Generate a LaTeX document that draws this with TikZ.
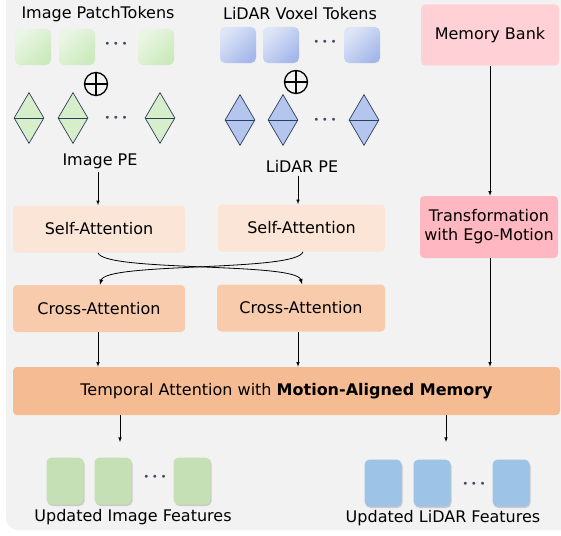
\documentclass[tikz,border=0pt]{standalone}
\usepackage{fontspec}
\setmainfont{DejaVu Sans}
\usepackage{xcolor}
\usetikzlibrary{arrows.meta,shapes.geometric,shadows}
\definecolor{bggray}{HTML}{F2F2F2}
\definecolor{tokgreenA}{HTML}{EAF6E4}
\definecolor{tokgreenB}{HTML}{CBEABD}
\definecolor{tokblueA}{HTML}{DDE5F7}
\definecolor{tokblueB}{HTML}{A6B8EA}
\definecolor{pegreen}{HTML}{D6EEC9}
\definecolor{peblue}{HTML}{B4C6EE}
\definecolor{peline}{HTML}{2E3D5C}
\definecolor{selfcol}{HTML}{FBE5D6}
\definecolor{crosscol}{HTML}{F8CBAD}
\definecolor{tempcol}{HTML}{F5BC94}
\definecolor{memcol}{HTML}{FFD1D7}
\definecolor{transcol}{HTML}{FFB8C1}
\definecolor{featgreen}{HTML}{C5E0B4}
\definecolor{featblue}{HTML}{9DC3E6}
\definecolor{dotcol}{HTML}{3B4A66}
\tikzset{>=latex}
\newcommand{\tokdots}{$\bullet$\hspace{4.6pt}$\bullet$\hspace{4.6pt}$\bullet$}
\tikzset{
	box/.style={rectangle, rounded corners=4pt, align=center, inner sep=0pt},
	attbox/.style={box, minimum height=47pt},
	token/.style={rectangle, rounded corners=5pt, minimum size=36pt, inner sep=0pt},
	gtoken/.style={token, top color=tokgreenA, bottom color=tokgreenB, shading angle=45},
	btoken/.style={token, top color=tokblueA, bottom color=tokblueB, shading angle=45},
	pe/.style={diamond, draw=peline, line width=0.7pt, minimum width=30pt, minimum height=51pt, inner sep=0pt},
	feat/.style={rectangle, rounded corners=5pt, minimum width=37pt, minimum height=47pt, inner sep=0pt,
			drop shadow={shadow xshift=1pt, shadow yshift=-1.5pt, opacity=0.35}},
	dots/.style={text=dotcol, font=\fontsize{7}{7}\selectfont, inner sep=0pt},
	oplus/.style={circle, draw, line width=1.3pt, minimum size=23pt, inner sep=0pt}
}

\begin{document}
\begin{tikzpicture}[x=1pt, y=-1pt, font=\fontsize{16}{19}\selectfont, semithick]
		\clip (0,0) rectangle (561,535);
		\fill[bggray, rounded corners=12pt] (6,-12) rectangle (590,530);

		% input tokens
		\node (imgtitle) at (98,14) {Image PatchTokens};
		\node (lidtitle) at (300,14) {LiDAR Voxel Tokens};
		\node[gtoken] (gt1) at (33,47) {};
		\node[gtoken] (gt2) at (77,47) {};
		\node[dots] (gtdots) at (116,44) {\tokdots};
		\node[gtoken] (gt3) at (156,47) {};
		\node[btoken] (bt1) at (238,45) {};
		\node[btoken] (bt2) at (281,45) {};
		\node[dots] (btdots) at (325,42) {\tokdots};
		\node[btoken] (bt3) at (362,45) {};

		% positional encodings
		\node[oplus] (plusI) at (96,84) {};
		\draw[line width=1.3pt] (plusI.north) -- (plusI.south) (plusI.west) -- (plusI.east);
		\node[oplus] (plusL) at (296,82) {};
		\draw[line width=1.3pt] (plusL.north) -- (plusL.south) (plusL.west) -- (plusL.east);
		\foreach \x [count=\i] in {29,73,160} {
				\node[pe, fill=pegreen] (gpe\i) at (\x,118) {};
				\draw[peline, line width=0.7pt] (gpe\i.west) -- (gpe\i.east);
			}
		\foreach \x [count=\i] in {240,283,364} {
				\node[pe, fill=peblue] (bpe\i) at (\x,120) {};
				\draw[peline, line width=0.7pt] (bpe\i.west) -- (bpe\i.east);
			}
		\node[dots] (gpedots) at (116,118) {\tokdots};
		\node[dots] (bpedots) at (325,120) {\tokdots};
		\node (imgpe) at (100,161) {Image PE};
		\node (lidpe) at (302,166) {LiDAR PE};

		% attention blocks
		\node[attbox, fill=selfcol, minimum width=172pt] (selfI) at (99,229) {Self-Attention};
		\node[attbox, fill=selfcol, minimum width=167pt] (selfL) at (301.5,228) {Self-Attention};
		\node[attbox, fill=crosscol, minimum width=172pt] (crossI) at (99,308.5) {Cross-Attention};
		\node[attbox, fill=crosscol, minimum width=168pt] (crossL) at (301,308) {Cross-Attention};

		% memory branch
		\node[box, fill=memcol, minimum width=138pt, minimum height=61pt] (membank) at (490,35) {Memory Bank};
		\node[box, fill=transcol, minimum width=138pt, minimum height=62pt] (trans) at (489,227) {Transformation\\with Ego-Motion};
		\node[box, fill=tempcol, minimum width=547pt, minimum height=48pt] (temporal) at (286.5,391)
		{Temporal Attention with \textbf{Motion-Aligned Memory}};

		% outputs
		\node[feat, fill=featgreen] (gf1) at (65,481) {};
		\node[feat, fill=featgreen] (gf2) at (113,481) {};
		\node[dots] (gfdots) at (155,477) {\tokdots};
		\node[feat, fill=featgreen] (gf3) at (192,481) {};
		\node[feat, fill=featblue] (bf1) at (383,483) {};
		\node[feat, fill=featblue] (bf2) at (432,483) {};
		\node[dots] (bfdots) at (474,484) {\tokdots};
		\node[feat, fill=featblue] (bf3) at (511,483) {};
		\node (imgout) at (133,517) {Updated Image Features};
		\node (lidout) at (443,518) {Updated LiDAR Features};
		\coordinate (imgend) at (120,442);
		\coordinate (lidend) at (446,442);

		% connectors
		\draw[->] (imgpe.south -| 98,0) -- (selfI.north -| 98,0);
		\draw[->] (lidpe.south -| 298,0) -- (selfL.north -| 298,0);
		\draw[->, thick] (selfI.south -| 98,0) .. controls (104,272) and (296,262) .. (crossL.north -| 302,0);
		\draw[->, thick] (selfL.south -| 303,0) .. controls (297,272) and (106,262) .. (crossI.north -| 100,0);
		\draw[->] (membank.south -| 490,0) -- (trans.north -| 490,0);
		\draw[->] (crossI.south -| 98,0) -- (temporal.north -| 98,0);
		\draw[->] (crossL.south -| 298,0) -- (temporal.north -| 298,0);
		\draw[->] (trans.south -| 490,0) -- (temporal.north -| 490,0);
		\draw[->] (temporal.south -| imgend) -- (imgend);
		\draw[->] (temporal.south -| lidend) -- (lidend);
	\end{tikzpicture}
\end{document}
